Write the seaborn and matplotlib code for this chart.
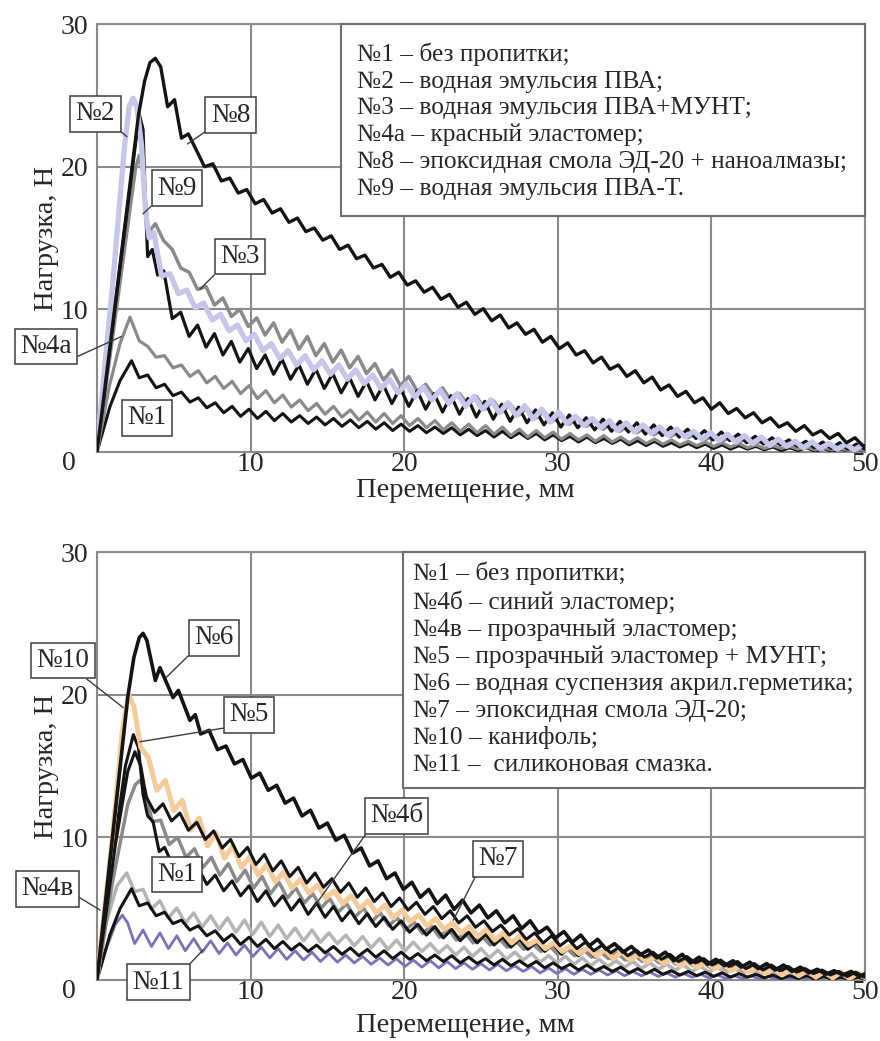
import numpy as np
import pandas as pd
import seaborn as sns
import matplotlib.pyplot as plt
from matplotlib.patches import Rectangle

# wave points are read every half period (troughs and peaks alternate)
STEP = 0.55

# ---------- upper chart ----------
n1_head_x = [0, 0.85, 1.5, 2.25]
n1_head_y = [0, 3.2, 5.0, 6.4]
n1_x0 = 2.75
n1_tail = [5.2, 5.4, 4.5, 4.75, 3.95, 4.2, 3.5, 3.8, 3.1, 3.45, 2.75, 3.2, 2.5, 3.0, 2.35, 2.85,
           2.2, 2.7, 2.1, 2.55, 2.0, 2.45, 1.9, 2.35, 1.8, 2.25, 1.7, 2.15, 1.6, 2.05, 1.5, 1.95,
           1.45, 1.85, 1.35, 1.75, 1.3, 1.7, 1.2, 1.6, 1.15, 1.5, 1.05, 1.45, 1.0, 1.35, 0.95, 1.3,
           0.85, 1.2, 0.8, 1.1, 0.7, 1.05, 0.65, 0.95, 0.6, 0.9, 0.5, 0.8, 0.45, 0.75, 0.4, 0.65,
           0.35, 0.6, 0.3, 0.55, 0.25, 0.5, 0.2, 0.45, 0.2, 0.4, 0.15, 0.35, 0.1, 0.3, 0.1, 0.3,
           0.05, 0.25, 0.05, 0.2, 0.05, 0.2, 0.05]

n2_head_x = [0, 2.75, 3.0, 3.15, 3.3, 3.6, 3.95, 4.35]
n2_head_y = [0, 23.7, 22.6, 17.5, 13.7, 14.2, 12.4, 12.7]
n2_x0 = 4.9
n2_tail = [9.35, 9.8, 8.1, 8.9, 7.35, 8.3, 6.8, 7.75, 6.3, 7.25, 5.85, 6.8, 5.45, 6.5, 5.1, 6.1,
           4.75, 5.8, 4.45, 5.5, 4.15, 5.2, 3.9, 4.95, 3.65, 4.7, 3.4, 4.5, 3.2, 4.3, 3.0, 4.1,
           2.8, 3.95, 2.65, 3.75, 2.45, 3.55, 2.3, 3.35, 2.15, 3.15, 2.05, 2.95, 1.9, 2.75, 1.75, 2.6,
           1.7, 2.4, 1.55, 2.3, 1.45, 2.15, 1.4, 2.05, 1.25, 1.9, 1.15, 1.75, 1.05, 1.6, 0.95, 1.5,
           0.85, 1.4, 0.8, 1.25, 0.65, 1.1, 0.55, 1.0, 0.5, 0.85, 0.4, 0.75, 0.3, 0.7, 0.25, 0.65,
           0.2, 0.55, 0.2]

n3_head_x = [0, 2.5, 2.75, 3.0, 3.35, 3.8]
n3_head_y = [0, 19.8, 20.8, 19.5, 15.4, 16.0]
n3_x0 = 4.35
n3_tail = [14.8, 14.2, 12.9, 12.6, 11.4, 11.6, 10.3, 10.8, 9.5, 10.0, 8.8, 9.4, 8.2, 9.05, 7.7, 8.55,
           7.2, 8.1, 6.75, 7.6, 6.3, 7.15, 5.9, 6.7, 5.5, 6.2, 5.05, 5.75, 4.65, 5.3, 4.25, 4.75,
           3.9, 4.5, 3.6, 4.1, 3.3, 3.9, 3.0, 3.6, 2.8, 3.35, 2.6, 3.1, 2.35, 2.85, 2.15, 2.6,
           1.95, 2.4, 1.8, 2.2, 1.6, 2.0, 1.45, 1.85, 1.35, 1.7, 1.2, 1.55, 1.1, 1.4, 1.0, 1.25,
           0.85, 1.1, 0.75, 1.0, 0.7, 0.9, 0.6, 0.8, 0.5, 0.7, 0.45, 0.6, 0.4, 0.5, 0.35, 0.45,
           0.3, 0.4, 0.25, 0.35]

n4a_head_x = [0, 0.8, 1.5, 2.15]
n4a_head_y = [0, 4.6, 7.6, 9.45]
n4a_x0 = 2.75
n4a_tail = [7.8, 7.4, 6.65, 6.75, 5.9, 6.1, 5.3, 5.7, 4.85, 5.3, 4.45, 4.95, 4.1, 4.65, 3.75, 4.3,
            3.45, 4.0, 3.15, 3.65, 2.9, 3.4, 2.65, 3.2, 2.45, 2.95, 2.25, 2.8, 2.1, 2.7, 2.0, 2.55,
            1.85, 2.35, 1.7, 2.2, 1.55, 2.05, 1.45, 1.95, 1.35, 1.85, 1.25, 1.75, 1.15, 1.6, 1.05, 1.5,
            1.0, 1.4, 0.9, 1.3, 0.85, 1.2, 0.75, 1.15, 0.7, 1.05, 0.65, 1.0, 0.6, 0.9, 0.55, 0.85,
            0.5, 0.75, 0.45, 0.7, 0.4, 0.65, 0.35, 0.6, 0.3, 0.5, 0.25, 0.45, 0.25, 0.4, 0.2, 0.35,
            0.15, 0.3, 0.15, 0.25, 0.1, 0.2, 0.1]

n8_head_x = [0, 2.7, 3.1, 3.45, 3.8, 4.15, 4.6, 5.05, 5.5, 5.95]
n8_head_y = [0, 23.6, 26.0, 27.3, 27.6, 27.0, 24.2, 24.7, 22.0, 22.3]
n8_x0 = 7.0
n8_tail = [20.0, 20.2, 19.0, 19.2, 18.15, 18.4, 17.4, 17.7, 16.75, 17.05, 16.1, 16.4, 15.45, 15.7,
           14.85, 15.15, 14.2, 14.5, 13.55, 13.8, 12.9, 13.15, 12.25, 12.6, 11.7, 12.0, 11.2, 11.55,
           10.7, 11.05, 10.15, 10.5, 9.65, 10.05, 9.2, 9.6, 8.7, 9.05, 8.25, 8.6, 7.7, 8.1, 7.25, 7.65,
           6.8, 7.1, 6.25, 6.65, 5.8, 6.1, 5.3, 5.7, 4.85, 5.25, 4.35, 4.7, 3.9, 4.25, 3.45, 3.8,
           3.0, 3.45, 2.7, 3.05, 2.4, 2.75, 2.05, 2.4, 1.75, 2.05, 1.45, 1.85, 1.2, 1.5, 0.95, 1.3,
           0.65, 1.0, 0.4, 0.7]

n9_head_x = [0, 1.0, 1.8, 2.1, 2.35, 2.6, 2.9, 3.15, 3.4, 3.7]
n9_head_y = [0.3, 11.5, 21.5, 24.2, 24.8, 24.2, 21.5, 17.0, 15.0, 15.4]
n9_x0 = 4.2
n9_tail = [12.35, 12.5, 11.1, 11.35, 10.1, 10.45, 9.25, 9.65, 8.5, 8.9, 7.8, 8.25, 7.1, 7.6, 6.55, 7.1,
           6.1, 6.75, 5.75, 6.4, 5.45, 6.1, 5.1, 5.75, 4.8, 5.4, 4.45, 5.1, 4.15, 4.8, 3.85, 4.55,
           3.65, 4.35, 3.4, 4.1, 3.2, 3.9, 3.0, 3.65, 2.75, 3.45, 2.55, 3.25, 2.3, 3.0, 2.1, 2.8,
           2.0, 2.5, 1.85, 2.35, 1.7, 2.2, 1.5, 2.05, 1.4, 1.9, 1.3, 1.75, 1.15, 1.6, 1.05, 1.45,
           0.9, 1.35, 0.8, 1.25, 0.7, 1.15, 0.6, 1.05, 0.45, 0.9, 0.4, 0.75, 0.3, 0.7, 0.25, 0.6,
           0.2, 0.55, 0.15, 0.5]

# ---------- lower chart ----------
n4b_head_x = [0, 1.0, 2.0, 2.5, 2.8, 3.1]
n4b_head_y = [0, 6.8, 12.3, 13.7, 14.0, 13.4]
n4b_x0 = 3.6
n4b_tail = [11.1, 11.2, 9.5, 10.0, 8.6, 9.2, 7.9, 8.6, 7.35, 8.15, 6.9, 7.7, 6.45, 7.25, 6.05, 6.85,
            5.75, 6.45, 5.4, 6.05, 5.05, 5.7, 4.75, 5.35, 4.4, 5.05, 4.1, 4.7, 3.8, 4.35, 3.5, 4.05,
            3.25, 3.8, 3.0, 3.6, 2.8, 3.3, 2.6, 3.1, 2.45, 2.95, 2.3, 2.75, 2.15, 2.55, 2.0, 2.4,
            1.8, 2.25, 1.7, 2.15, 1.6, 2.0, 1.5, 1.9, 1.4, 1.8, 1.3, 1.7, 1.2, 1.6, 1.1, 1.45,
            1.0, 1.3, 0.9, 1.2, 0.75, 1.1, 0.65, 1.0, 0.6, 0.9, 0.5, 0.8, 0.45, 0.7, 0.35, 0.65,
            0.3, 0.55, 0.25, 0.5, 0.2]

n4v_head_x = [0, 0.6, 1.3, 1.93]
n4v_head_y = [0, 4.0, 6.6, 7.5]
n4v_x0 = 2.45
n4v_tail = [6.2, 6.35, 5.0, 5.55, 4.35, 5.05, 4.0, 4.7, 3.7, 4.5, 3.55, 4.35, 3.35, 4.2, 3.2, 4.05,
            3.05, 3.85, 2.9, 3.65, 2.75, 3.5, 2.65, 3.3, 2.55, 3.15, 2.4, 3.05, 2.25, 2.9, 2.15, 2.8,
            2.05, 2.65, 2.0, 2.55, 1.9, 2.4, 1.75, 2.3, 1.65, 2.2, 1.55, 2.1, 1.45, 1.95, 1.4, 1.85,
            1.25, 1.7, 1.2, 1.65, 1.1, 1.55, 1.0, 1.45, 0.95, 1.35, 0.9, 1.3, 0.8, 1.2, 0.75, 1.1,
            0.7, 1.05, 0.6, 0.95, 0.55, 0.9, 0.5, 0.8, 0.45, 0.7, 0.35, 0.65, 0.3, 0.6, 0.25, 0.5,
            0.15, 0.45, 0.1, 0.4, 0.1, 0.3, 0.05]

n5_head_x = [0, 1.0, 1.85, 2.37, 2.7, 3.0, 3.3, 3.65, 4.05, 4.4]
n5_head_y = [0, 8.5, 15.0, 17.2, 16.3, 13.0, 11.5, 11.1, 9.0, 9.3]
n5_x0 = 4.95
n5_tail = [8.0, 8.55, 7.25, 7.85, 6.7, 7.35, 6.25, 6.95, 5.9, 6.6, 5.5, 6.25, 5.2, 5.9, 4.9, 5.65,
           4.6, 5.4, 4.4, 5.15, 4.15, 4.85, 3.95, 4.65, 3.75, 4.4, 3.55, 4.15, 3.35, 3.9, 3.15, 3.75,
           2.95, 3.55, 2.75, 3.35, 2.6, 3.2, 2.45, 3.0, 2.3, 2.85, 2.15, 2.65, 2.0, 2.5, 1.8, 2.35,
           1.7, 2.2, 1.6, 2.05, 1.45, 1.9, 1.35, 1.8, 1.25, 1.65, 1.1, 1.55, 1.05, 1.4, 0.95, 1.3,
           0.85, 1.2, 0.75, 1.1, 0.65, 1.0, 0.55, 0.9, 0.5, 0.8, 0.4, 0.7, 0.35, 0.6, 0.25, 0.55,
           0.2, 0.5, 0.15]

n6_head_x = [0, 2.0, 2.4, 2.75, 3.0, 3.25, 3.8, 4.1, 4.95, 5.3, 6.05, 6.4]
n6_head_y = [0, 19.8, 22.6, 24.0, 24.3, 23.8, 21.0, 21.9, 19.8, 20.3, 18.2, 18.6]
n6_x0 = 6.75
n6_tail = [17.25, 17.5, 16.15, 16.4, 15.15, 15.45, 14.15, 14.5, 13.3, 13.65, 12.4, 12.75, 11.5, 11.9,
           10.65, 11.0, 9.8, 10.15, 8.9, 9.25, 8.0, 8.35, 7.1, 7.5, 6.35, 6.85, 5.8, 6.35, 5.35, 5.95,
           4.95, 5.6, 4.7, 5.25, 4.35, 4.85, 4.0, 4.5, 3.6, 4.15, 3.3, 3.7, 2.95, 3.4, 2.65, 3.15,
           2.4, 2.85, 2.15, 2.55, 1.95, 2.35, 1.75, 2.1, 1.55, 1.95, 1.35, 1.8, 1.2, 1.6, 1.1, 1.45,
           1.0, 1.35, 0.9, 1.25, 0.8, 1.15, 0.7, 1.05, 0.6, 0.9, 0.5, 0.75, 0.4, 0.65, 0.35, 0.6,
           0.25, 0.55]

n7_head_x = [0, 1.2, 2.0, 2.47, 2.85, 3.2]
n7_head_y = [0, 9.5, 14.6, 16.0, 15.0, 12.85]
n7_x0 = 3.75
n7_tail = [11.75, 12.35, 11.15, 11.7, 10.5, 11.05, 9.85, 10.45, 9.25, 9.85, 8.65, 9.3, 8.1, 8.8, 7.65, 8.35,
           7.25, 7.9, 6.8, 7.5, 6.5, 7.1, 6.15, 6.8, 5.8, 6.45, 5.5, 6.1, 5.15, 5.75, 4.9, 5.45,
           4.6, 5.15, 4.3, 4.85, 4.0, 4.5, 3.7, 4.15, 3.4, 3.85, 3.15, 3.6, 2.85, 3.3, 2.6, 3.1,
           2.4, 2.85, 2.2, 2.65, 2.05, 2.45, 1.9, 2.3, 1.7, 2.1, 1.6, 1.95, 1.45, 1.8, 1.3, 1.65,
           1.2, 1.5, 1.05, 1.4, 0.95, 1.3, 0.8, 1.15, 0.7, 1.05, 0.65, 0.95, 0.55, 0.8, 0.45, 0.7,
           0.35, 0.6, 0.25, 0.55, 0.2]

n10_head_x = [0, 1.0, 1.65, 2.05, 2.4, 2.85, 3.35]
n10_head_y = [0, 10.0, 17.5, 20.0, 19.2, 16.3, 15.6]
n10_x0 = 3.9
n10_tail = [13.3, 14.0, 11.9, 12.6, 10.5, 11.35, 9.4, 10.3, 8.55, 9.4, 7.9, 8.65, 7.35, 8.1, 6.9, 7.55,
            6.45, 7.05, 6.1, 6.65, 5.75, 6.25, 5.35, 5.9, 5.0, 5.55, 4.7, 5.25, 4.35, 4.9, 4.1, 4.55,
            3.8, 4.3, 3.55, 4.0, 3.3, 3.75, 3.05, 3.55, 2.8, 3.3, 2.6, 3.1, 2.45, 2.8, 2.2, 2.6,
            2.0, 2.4, 1.85, 2.25, 1.7, 2.1, 1.5, 1.95, 1.4, 1.8, 1.25, 1.65, 1.15, 1.5, 1.0, 1.35,
            0.9, 1.25, 0.8, 1.1, 0.65, 1.0, 0.55, 0.9, 0.45, 0.8, 0.35, 0.7, 0.3, 0.65, 0.2, 0.6,
            0.15, 0.55, 0.1, 0.5, 0.1]

n11_head_x = [0, 0.6, 1.2, 1.65, 2.0]
n11_head_y = [0, 2.2, 3.9, 4.55, 4.0]
n11_x0 = 2.45
n11_tail = [2.55, 3.5, 2.35, 3.3, 2.2, 3.1, 2.05, 2.9, 1.95, 2.75, 1.85, 2.6, 1.75, 2.45, 1.65, 2.3,
            1.55, 2.2, 1.45, 2.05, 1.4, 1.95, 1.3, 1.85, 1.25, 1.75, 1.2, 1.65, 1.1, 1.55, 1.05, 1.5,
            0.95, 1.4, 0.9, 1.35, 0.85, 1.3, 0.8, 1.2, 0.75, 1.15, 0.7, 1.1, 0.65, 1.0, 0.6, 0.95,
            0.5, 0.85, 0.45, 0.8, 0.4, 0.75, 0.4, 0.7, 0.35, 0.65, 0.3, 0.6, 0.3, 0.55, 0.25, 0.5,
            0.2, 0.45, 0.2, 0.4, 0.15, 0.35, 0.1, 0.3, 0.1, 0.3, 0.05, 0.25, 0.05, 0.2, 0.0, 0.2,
            0.0, 0.15, 0.0, 0.15, 0.0, 0.1, 0.0]

legend_top = [
    "№1 – без пропитки;",
    "№2 – водная эмульсия ПВА;",
    "№3 – водная эмульсия ПВА+МУНТ;",
    "№4а – красный эластомер;",
    "№8 – эпоксидная смола ЭД-20 + наноалмазы;",
    "№9 – водная эмульсия ПВА-Т.",
]
legend_bot = [
    "№1 – без пропитки;",
    "№4б – синий эластомер;",
    "№4в – прозрачный эластомер;",
    "№5 – прозрачный эластомер + МУНТ;",
    "№6 – водная суспензия акрил.герметика;",
    "№7 – эпоксидная смола ЭД-20;",
    "№10 – канифоль;",
    "№11 –  силиконовая смазка.",
]


def curve(head_x, head_y, x0, tail):
    x = list(head_x) + list(x0 + STEP * np.arange(len(tail)))
    y = list(head_y) + list(tail)
    return pd.DataFrame({"x": x, "y": y})


BLACK = "#141414"
GRAY = "#8a8a8a"
LGRAY = "#b4b4b4"
LAV = "#c6c5ea"
PEACH = "#f5cb9a"
PURPLE = "#7d70b6"
GRID = "#8a8a8a"
FS_TICK = 20
FS_LABEL = 20.5
FS_LEG = 18.3
FS_NOTE = 19.5

top_curves = [
    (curve(n1_head_x, n1_head_y, n1_x0, n1_tail), BLACK, 2.2),
    (curve(n4a_head_x, n4a_head_y, n4a_x0, n4a_tail), GRAY, 2.3),
    (curve(n3_head_x, n3_head_y, n3_x0, n3_tail), GRAY, 2.5),
    (curve(n2_head_x, n2_head_y, n2_x0, n2_tail), BLACK, 2.3),
    (curve(n9_head_x, n9_head_y, n9_x0, n9_tail), LAV, 3.8),
    (curve(n8_head_x, n8_head_y, n8_x0, n8_tail), BLACK, 2.4),
]
bot_curves = [
    (curve(n11_head_x, n11_head_y, n11_x0, n11_tail), PURPLE, 2.0),
    (curve(n4v_head_x, n4v_head_y, n4v_x0, n4v_tail), LGRAY, 2.5),
    (curve(n1_head_x, n1_head_y, n1_x0, n1_tail), BLACK, 2.2),
    (curve(n4b_head_x, n4b_head_y, n4b_x0, n4b_tail), GRAY, 2.5),
    (curve(n5_head_x, n5_head_y, n5_x0, n5_tail), BLACK, 2.2),
    (curve(n10_head_x, n10_head_y, n10_x0, n10_tail), PEACH, 3.6),
    (curve(n7_head_x, n7_head_y, n7_x0, n7_tail), BLACK, 2.2),
    (curve(n6_head_x, n6_head_y, n6_x0, n6_tail), BLACK, 2.6),
]

# callouts: label, box centre, point on the curve, corner the leader starts from
top_notes = [
    ("№2", (-0.1, 23.7), (1.95, 22.1), (1, 0)),
    ("№8", (8.7, 23.6), (5.9, 21.6), (0, 0)),
    ("№9", (5.2, 18.5), (3.0, 16.7), (0, 0)),
    ("№3", (9.3, 13.7), (6.7, 11.4), (0, 0)),
    ("№4а", (-3.3, 7.4), (1.6, 8.1), (1, 0)),
    ("№1", (3.25, 2.4), None, None),
]
bot_notes = [
    ("№6", (7.6, 24.0), (4.5, 21.2), (0, 0)),
    ("№10", (-2.2, 22.4), (1.7, 19.1), (0.8, 0)),
    ("№5", (9.9, 18.6), (2.8, 16.7), (0, 0)),
    ("№4б", (19.5, 11.5), (14.05, 5.0), (0, 0)),
    ("№4в", (-3.25, 6.4), (0.2, 4.9), (1, 0.3)),
    ("№1", (5.2, 7.4), None, None),
    ("№11", (4.0, -0.15), (6.9, 2.1), (1, 1)),
    ("№7", (26.1, 8.5), (23.2, 4.2), (0, 0)),
]

sns.set_style("white")
plt.rcParams["font.family"] = ["Liberation Serif", "DejaVu Serif"]

fig = plt.figure(figsize=(8.8, 10.41), dpi=100)
ax_top = fig.add_axes([0.1102, 0.5658, 0.8727, 0.4111])
ax_bot = fig.add_axes([0.1102, 0.0586, 0.8727, 0.4111])


def draw_panel(ax, curves, notes, legend_lines, box_x, box_y, text_x, text_y, xlabel_y):
    for df, color, lw in curves:
        sns.lineplot(data=df, x="x", y="y", ax=ax, color=color, lw=lw,
                     sort=False, estimator=None, zorder=3,
                     solid_joinstyle="round", solid_capstyle="round")
    ax.set_xlim(0, 50)
    ax.set_ylim(0, 30)
    ax.set_xticks([10, 20, 30, 40, 50])
    ax.set_yticks([10, 20, 30])
    ax.grid(True, color=GRID, lw=1.5)
    ax.set_axisbelow(True)
    for s in ax.spines.values():
        s.set_visible(True)
        s.set_color(GRID)
        s.set_linewidth(1.5)
    ax.tick_params(axis="both", length=0, labelsize=FS_TICK)
    ax.tick_params(axis="x", pad=0)
    ax.tick_params(axis="y", pad=6)
    ax.text(-0.036, -0.027, "0", transform=ax.transAxes, ha="center", va="center",
            fontsize=FS_TICK)
    ax.set_xlabel("Перемещение, мм", fontsize=FS_LABEL)
    ax.set_ylabel("Нагрузка, Н", fontsize=FS_LABEL)
    ax.xaxis.set_label_coords(0.48, xlabel_y)
    ax.yaxis.set_label_coords(-0.05, 0.5)

    ax.add_patch(Rectangle((box_x, box_y), 1 - box_x, 1 - box_y, transform=ax.transAxes,
                           fc="white", ec="#6e6e6e", lw=1.5, zorder=5, clip_on=False))
    ax.text(text_x, text_y, "\n".join(legend_lines), transform=ax.transAxes,
            ha="left", va="top", fontsize=FS_LEG, linespacing=1.27, zorder=6)

    for label, pos, target, rel in notes:
        bbox = dict(boxstyle="square,pad=0.2", fc="white", ec="#3c3c3c", lw=1.1)
        if target is None:
            ax.text(pos[0], pos[1], label, ha="center", va="center", fontsize=FS_NOTE,
                    bbox=bbox, zorder=7)
        else:
            ax.annotate(label, xy=target, xytext=pos, ha="center", va="center",
                        fontsize=FS_NOTE, bbox=bbox, zorder=7, annotation_clip=False,
                        arrowprops=dict(arrowstyle="-", color="#3c3c3c", lw=1.0,
                                        relpos=rel, shrinkA=0, shrinkB=0))


draw_panel(ax_top, top_curves, top_notes, legend_top, 0.318, 0.551, 0.338, 0.957, -0.06)
draw_panel(ax_bot, bot_curves, bot_notes, legend_bot, 0.398, 0.449, 0.411, 0.977, -0.077)

fig.savefig("out.png", dpi=100)
